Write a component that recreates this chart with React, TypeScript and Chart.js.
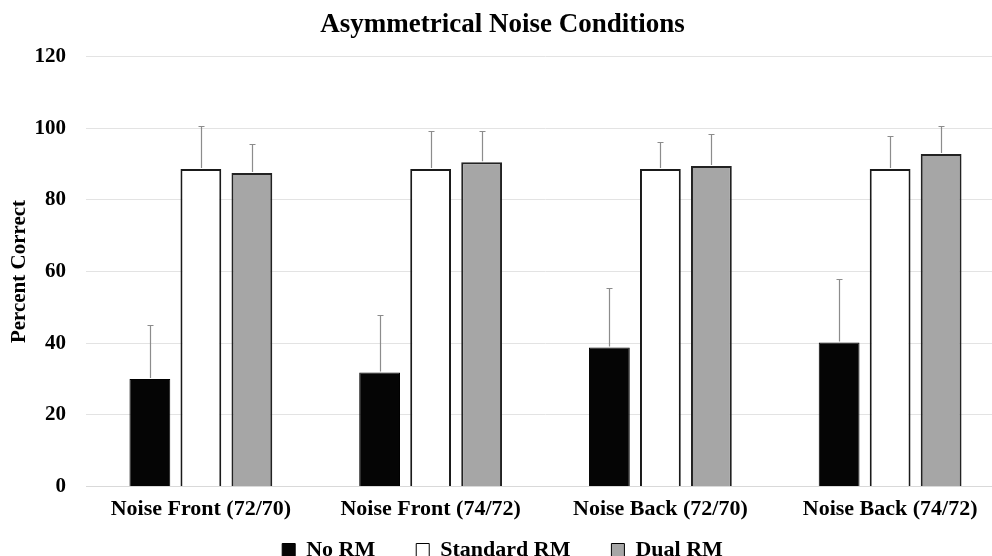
import React, { useEffect, useRef } from "react";
import { Chart, registerables } from "chart.js";

Chart.register(...registerables);

const categories = [
  "Noise Front (72/70)",
  "Noise Front (74/72)",
  "Noise Back (72/70)",
  "Noise Back (74/72)",
];
const seriesNames = ["No RM", "Standard RM", "Dual RM"];
const noRM = [30, 31.8, 38.8, 40.2];
const noRMErr = [15.1, 16, 16.7, 17.7];
const standardRM = [88.6, 88.6, 88.6, 88.6];
const standardRMErr = [12, 10.6, 7.6, 9.3];
const dualRM = [87.5, 90.5, 89.4, 92.8];
const dualRMErr = [8.2, 8.7, 9, 7.8];
const yTicks = [0, 20, 40, 60, 80, 100, 120];

const FONT = "'Liberation Serif', 'Times New Roman', serif";

const errorBarPlugin = {
  id: "errorBars",
  afterDatasetsDraw(chart: any) {
    const ctx = chart.ctx;
    const y = chart.scales.y;
    chart.data.datasets.forEach((ds: any, i: number) => {
      const meta = chart.getDatasetMeta(i);
      meta.data.forEach((bar: any, j: number) => {
        const v = ds.data[j];
        const e = ds.errors[j];
        const yTop = Math.round(y.getPixelForValue(v + e)) + 0.5;
        const yBase = y.getPixelForValue(v) - 1;
        const x = Math.round(bar.x) + 0.5;
        ctx.save();
        ctx.strokeStyle = "#8c8c8c";
        ctx.lineWidth = 1.2;
        ctx.beginPath();
        ctx.moveTo(x, yBase);
        ctx.lineTo(x, yTop);
        ctx.moveTo(x - 3, yTop);
        ctx.lineTo(x + 3, yTop);
        ctx.stroke();
        ctx.restore();
      });
    });
  },
};

// Move the legend up so it sits just below the category labels.
const legendShiftPlugin = {
  id: "legendShift",
  afterLayout(chart: any) {
    const lg = chart.legend;
    if (!lg) return;
    const shift = 35;
    lg.top -= shift;
    lg.bottom -= shift;
  },
};

export default function App() {
  const ref = useRef<HTMLCanvasElement | null>(null);

  useEffect(() => {
    if (!ref.current) return;
    const chart = new Chart(ref.current, {
      type: "bar",
      data: {
        labels: categories,
        datasets: [
          {
            label: seriesNames[0],
            data: noRM,
            errors: noRMErr,
            backgroundColor: "#050505",
            borderColor: "#000000",
            borderWidth: 1,
          } as any,
          {
            label: seriesNames[1],
            data: standardRM,
            errors: standardRMErr,
            backgroundColor: "#ffffff",
            borderColor: "#1a1a1a",
            borderWidth: 2,
          } as any,
          {
            label: seriesNames[2],
            data: dualRM,
            errors: dualRMErr,
            backgroundColor: "#a6a6a6",
            borderColor: "#222222",
            borderWidth: 2,
          } as any,
        ],
      },
      options: {
        responsive: false,
        maintainAspectRatio: false,
        animation: false,
        layout: { padding: { left: 0, right: 5, top: 0, bottom: 0 } },
        datasets: {
          bar: { categoryPercentage: 0.666, barPercentage: 0.8 },
        },
        plugins: {
          title: {
            display: true,
            text: "Asymmetrical Noise Conditions",
            color: "#000",
            font: { family: FONT, size: 27, weight: "bold" },
            padding: { top: 9, bottom: 15 },
          },
          legend: {
            position: "bottom",
            labels: {
              color: "#000",
              font: { family: FONT, size: 22, weight: "bold" },
              boxWidth: 13,
              boxHeight: 13,
              padding: 41,
              generateLabels(chart: any) {
                const items = (Chart.defaults.plugins.legend.labels as any).generateLabels(chart);
                return items.map((it: any) => ({ ...it, lineWidth: 1, strokeStyle: "#000" }));
              },
            },
          },
          tooltip: { enabled: false },
        },
        scales: {
          x: {
            grid: { display: false, drawTicks: false },
            border: { display: true, color: "#d9d9d9" },
            ticks: {
              color: "#000",
              padding: 10,
              font: { family: FONT, size: 22, weight: "bold" },
            },
          },
          y: {
            min: 0,
            max: 120,
            afterBuildTicks(scale: any) {
              scale.ticks = yTicks.map((v) => ({ value: v }));
            },
            grid: { color: "#e3e3e3", drawTicks: false },
            border: { display: false },
            ticks: {
              color: "#000",
              padding: 20,
              font: { family: FONT, size: 21, weight: "bold" },
            },
            title: {
              display: true,
              text: "Percent Correct",
              color: "#000",
              font: { family: FONT, size: 21, weight: "bold" },
              padding: { top: 7, bottom: 0 },
            },
            afterFit(scale: any) {
              scale.width = 86;
            },
          },
        },
      } as any,
      plugins: [errorBarPlugin, legendShiftPlugin],
    });
    return () => chart.destroy();
  }, []);

  return (
    <div
      style={{
        position: "absolute",
        left: 0,
        top: 0,
        width: 992,
        height: 556,
        overflow: "hidden",
        background: "#fff",
      }}
    >
      <canvas ref={ref} width={1010} height={606} style={{ display: "block" }} />
    </div>
  );
}
